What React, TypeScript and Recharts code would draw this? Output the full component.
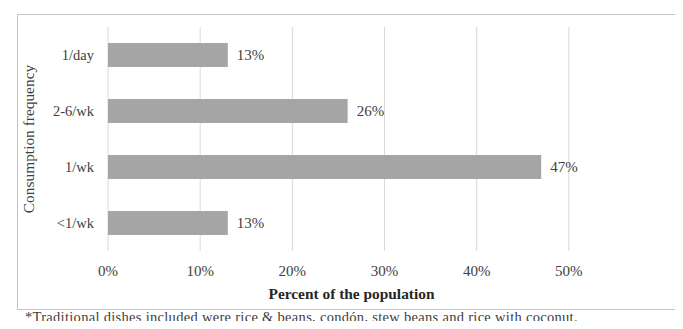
import { BarChart, Bar, XAxis, YAxis, CartesianGrid, LabelList } from 'recharts'

const categories = ['1/day', '2-6/wk', '1/wk', '<1/wk']
const percents = [13, 26, 47, 13]
const xTicks = [0, 10, 20, 30, 40, 50]
const xMax = 60

const data = categories.map((frequency, i) => ({ frequency, percent: percents[i] }))

const font = '"Liberation Serif", "Times New Roman", serif'

// grid only at the labelled ticks, not at the domain end
function gridX({ xAxis, offset }: any) {
  if (xAxis && typeof xAxis.scale === 'function') return xTicks.map(t => xAxis.scale(t))
  return xTicks.map(t => offset.left + (t / xMax) * offset.width)
}

export default function App() {
  return (
    <div
      style={{
        position: 'relative',
        width: 683,
        height: 329,
        margin: -8,
        background: '#fff',
        fontFamily: font,
        overflow: 'hidden',
      }}
    >
      <div
        style={{
          position: 'absolute',
          left: 17,
          top: 14,
          width: 660,
          height: 296,
          border: '1px solid #c4c4c4',
          boxSizing: 'border-box',
        }}
      />
      <div style={{ position: 'absolute', left: 18, top: 15 }}>
        <BarChart
          width={657}
          height={293}
          data={data}
          layout="vertical"
          margin={{ top: 12, right: 14, left: 0, bottom: 0 }}
        >
          <CartesianGrid horizontal={false} stroke="#d9d9d9" verticalCoordinatesGenerator={gridX} />
          <XAxis
            type="number"
            domain={[0, xMax]}
            ticks={xTicks}
            tickFormatter={v => `${v}%`}
            axisLine={false}
            tickLine={false}
            tickMargin={8}
            height={57}
            tick={{ fontSize: 15, fill: '#404040', fontFamily: font }}
            label={{
              value: 'Percent of the population',
              position: 'insideBottom',
              offset: 9,
              dx: -33,
              style: { fontSize: 15.4, fontWeight: 'bold', fill: '#262626', fontFamily: font },
            }}
          />
          <YAxis
            type="category"
            dataKey="frequency"
            width={90}
            axisLine={false}
            tickLine={false}
            tickMargin={8}
            tick={{ fontSize: 14.5, fill: '#404040', fontFamily: font }}
            label={{
              value: 'Consumption frequency',
              angle: -90,
              position: 'insideLeft',
              offset: 11,
              style: { fontSize: 15.4, fill: '#404040', fontFamily: font, textAnchor: 'middle' },
            }}
          />
          <Bar dataKey="percent" fill="#a5a5a5" barSize={24} isAnimationActive={false}>
            <LabelList
              dataKey="percent"
              position="right"
              offset={9}
              formatter={(v: number) => `${v}%`}
              style={{ fontSize: 15, fill: '#404040', fontFamily: font }}
            />
          </Bar>
        </BarChart>
      </div>
      <div
        style={{
          position: 'absolute',
          left: 25,
          top: 310,
          fontSize: 14.5,
          lineHeight: '15px',
          color: '#404040',
          whiteSpace: 'nowrap',
          letterSpacing: 0.3,
        }}
      >
        *Traditional dishes included were rice &amp; beans, condón, stew beans and rice with coconut.
      </div>
    </div>
  )
}
